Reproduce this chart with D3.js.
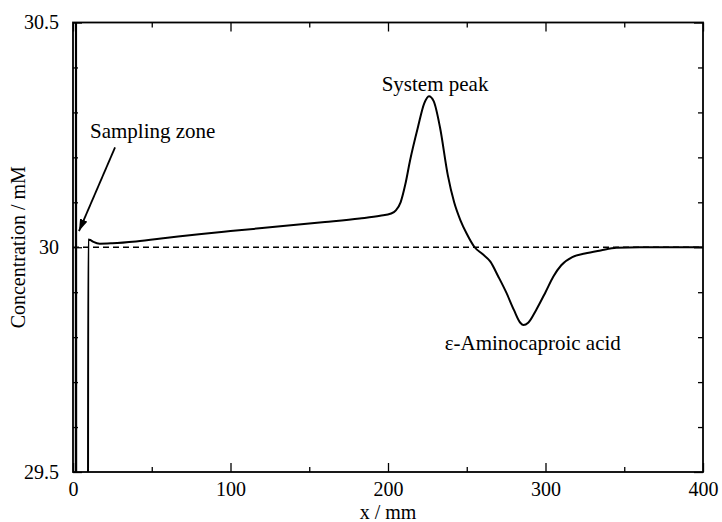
<!DOCTYPE html>
<html lang="en">
<head>
<meta charset="UTF-8">
<title>Concentration profile</title>
<script src="https://d3js.org/d3.v7.min.js"></script>
<style>
  body { margin: 0; background: #fff; }
  svg, svg text { font-family: "Liberation Serif", "Times New Roman", Times, "DejaVu Serif", "Noto Serif", serif !important; }
  .axis path { display: none; }
  .axis line { stroke: #000; stroke-width: 1.3; }
  .axis text { font-size: 20px; fill: #000; }
</style>
</head>
<body>
<div id="chart"></div>
<script>
// position along the column (mm) and concentration (mM)
const xMM = [1.7, 1.9, 2.1, 9.4, 9.7, 11, 13, 17, 25, 40, 60, 80, 100, 130, 160, 182, 195, 202,
  205, 208, 211, 214, 219, 223, 226, 229, 233, 238, 242, 246, 250, 255, 260, 265, 270, 275,
  280, 284, 286, 289, 294, 300, 305, 310, 317, 325, 335, 345, 360, 380, 400];
const conc = [29.0, 31.0, 29.0, 29.0, 30.017, 30.016, 30.012, 30.008, 30.009, 30.013, 30.021,
  30.029, 30.036, 30.046, 30.056, 30.064, 30.07, 30.075, 30.082, 30.1, 30.14, 30.193, 30.267,
  30.32, 30.336, 30.325, 30.267, 30.16, 30.1, 30.06, 30.03, 30.0, 29.985, 29.968, 29.935, 29.9,
  29.86, 29.832, 29.827, 29.832, 29.86, 29.9, 29.935, 29.96, 29.978, 29.986, 29.993, 29.999,
  30.0, 30.0, 30.0];
const baseline = 30;

const xTicks = [0, 100, 200, 300, 400];
const xMinor = [50, 150, 250, 350];
const yTicks = [29.5, 30, 30.5];
const yMinor = [29.6, 29.7, 29.8, 29.9, 30.1, 30.2, 30.3, 30.4];

const serif = '"Liberation Serif", "Times New Roman", Times, "DejaVu Serif", serif';

const w = 722, h = 522;
const margin = {top: 22.5, right: 19, bottom: 50, left: 73};
const iw = w - margin.left - margin.right;
const ih = h - margin.top - margin.bottom;

const svg = d3.select("#chart").append("svg")
  .attr("width", w).attr("height", h)
  .attr("font-family", serif);

const g = svg.append("g")
  .attr("transform", "translate(" + margin.left + "," + margin.top + ")");

const x = d3.scaleLinear().domain([0, 400]).range([0, iw]);
const y = d3.scaleLinear().domain([29.5, 30.5]).range([ih, 0]);

g.append("clipPath").attr("id", "plot-clip")
  .append("rect").attr("width", iw).attr("height", ih);

// axes: ticks point inward, mirrored on top and right
g.append("g").attr("class", "axis").attr("transform", "translate(0," + ih + ")")
  .call(d3.axisBottom(x).tickValues(xTicks).tickSize(-9).tickPadding(10).tickFormat(d3.format("d")));
g.append("g").attr("class", "axis").attr("transform", "translate(0," + ih + ")")
  .call(d3.axisBottom(x).tickValues(xMinor).tickSize(-5).tickFormat(""));
g.append("g").attr("class", "axis")
  .call(d3.axisTop(x).tickValues(xTicks).tickSize(-9).tickFormat(""));
g.append("g").attr("class", "axis")
  .call(d3.axisTop(x).tickValues(xMinor).tickSize(-5).tickFormat(""));

g.append("g").attr("class", "axis")
  .call(d3.axisLeft(y).tickValues(yTicks).tickSize(-9).tickPadding(14).tickFormat(d => d === 30 ? "30" : d3.format(".1f")(d)));
g.append("g").attr("class", "axis")
  .call(d3.axisLeft(y).tickValues(yMinor).tickSize(-5).tickFormat(""));
g.append("g").attr("class", "axis").attr("transform", "translate(" + iw + ",0)")
  .call(d3.axisRight(y).tickValues(yTicks).tickSize(-9).tickFormat(""));
g.append("g").attr("class", "axis").attr("transform", "translate(" + iw + ",0)")
  .call(d3.axisRight(y).tickValues(yMinor).tickSize(-5).tickFormat(""));

g.selectAll(".axis").attr("font-family", serif);

// dashed reference at 30 mM
g.append("line")
  .attr("x1", x(0)).attr("x2", x(400))
  .attr("y1", y(baseline)).attr("y2", y(baseline))
  .attr("stroke", "#000").attr("stroke-width", 1.5)
  .attr("stroke-dasharray", "6,4");

const data = xMM.map((d, i) => [d, conc[i]]);
const line = d3.line()
  .x(d => x(d[0]))
  .y(d => y(d[1]))
  .curve(d3.curveMonotoneX);

g.append("path")
  .datum(data)
  .attr("clip-path", "url(#plot-clip)")
  .attr("fill", "none")
  .attr("stroke", "#000")
  .attr("stroke-width", 2)
  .attr("stroke-linejoin", "round")
  .attr("d", line);

// frame
g.append("rect")
  .attr("width", iw).attr("height", ih)
  .attr("fill", "none").attr("stroke", "#000").attr("stroke-width", 1.8);

// annotations
svg.append("defs").append("marker")
  .attr("id", "arrow").attr("viewBox", "0 0 12 8")
  .attr("refX", 12).attr("refY", 4)
  .attr("markerWidth", 12).attr("markerHeight", 8)
  .attr("markerUnits", "userSpaceOnUse").attr("orient", "auto")
  .append("path").attr("d", "M0,0 L12,4 L0,8 Z").attr("fill", "#000");

g.append("line")
  .attr("x1", x(26.7)).attr("y1", y(30.222))
  .attr("x2", x(3.8)).attr("y2", y(30.036))
  .attr("stroke", "#000").attr("stroke-width", 1.8)
  .attr("marker-end", "url(#arrow)");

const labels = [
  {t: "Sampling zone", x: 10.8, y: 30.244},
  {t: "System peak", x: 196, y: 30.347},
  {t: "\u03b5-Aminocaproic acid", x: 236, y: 29.771}
];
g.selectAll("text.note").data(labels).enter().append("text")
  .attr("class", "note")
  .attr("x", d => x(d.x)).attr("y", d => y(d.y))
  .attr("font-size", 21)
  .text(d => d.t);

// axis titles
svg.append("text")
  .attr("x", margin.left + iw / 2).attr("y", 519)
  .attr("text-anchor", "middle").attr("font-size", 20)
  .text("x / mm");
svg.append("text")
  .attr("transform", "translate(25," + (margin.top + ih / 2) + ") rotate(-90)")
  .attr("text-anchor", "middle").attr("font-size", 20)
  .text("Concentration / mM");
</script>
</body>
</html>
